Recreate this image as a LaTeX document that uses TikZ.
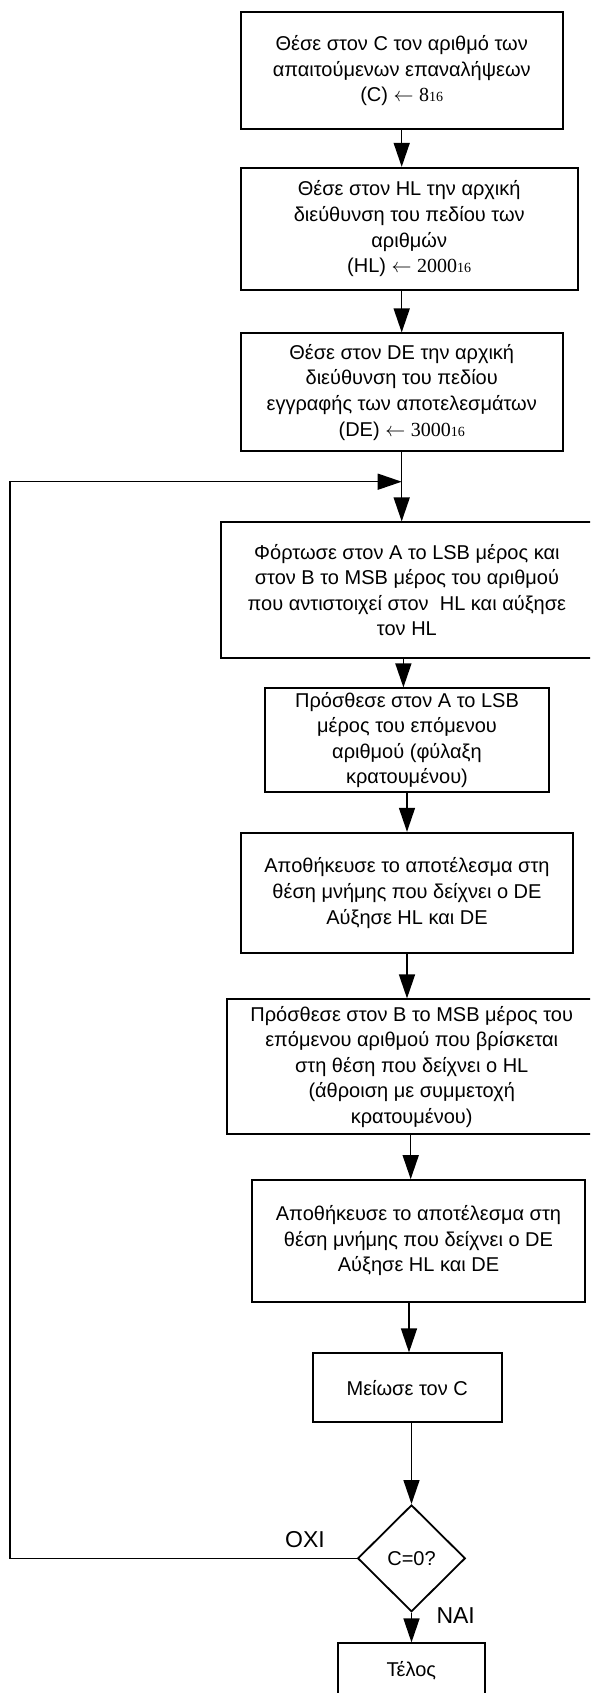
\documentclass[tikz,border=0pt]{standalone}
\usepackage{fontspec}
\setmainfont{Liberation Sans}
\newfontfamily\tms{Liberation Serif}
\usetikzlibrary{arrows.meta,shapes.geometric}
\newcommand{\hexv}[1]{{\tms #1}}
\newcommand{\sixteen}{{\tms\fontsize{7}{7}\selectfont 16}}
\begin{document}
\begin{tikzpicture}[x=0.5pt,y=-0.5pt,
  box/.style={draw, line width=0.9pt, rectangle, align=center, inner sep=0pt,
    font=\fontsize{10}{12.8}\selectfont},
  dec/.style={draw, line width=0.9pt, diamond, aspect=1, inner sep=0pt,
    minimum width=53.8pt, minimum height=53.4pt, font=\fontsize{10}{12}\selectfont},
  lbl/.style={inner sep=0pt, font=\fontsize{11.5}{13}\selectfont},
  arr/.style={line width=0.75pt, -{Triangle[length=12pt,width=8pt]}},
  ln/.style={line width=0.75pt}]
\useasboundingbox (0,0) rectangle (590,1693);
\clip (0,0) rectangle (590,1693);
\fill[white] (0,0) rectangle (590,1693);

\node[box, minimum width=161pt, minimum height=58.35pt] (b1) at (401.7,70.7)
  {Θέσε στον C τον αριθμό των\\απαιτούμενων επαναλήψεων\\(C) $\leftarrow$ \hexv{8}\sixteen};
\node[box, minimum width=168.5pt, minimum height=61.15pt] (b2) at (409.2,228.9)
  {Θέσε στον HL την αρχική\\διεύθυνση του πεδίου των\\αριθμών\\(HL) $\leftarrow$ \hexv{2000}\sixteen};
\node[box, minimum width=161pt, minimum height=58.85pt] (b3) at (401.7,392.2)
  {Θέσε στον DE την αρχική\\διεύθυνση του πεδίου\\εγγραφής των αποτελεσμάτων\\(DE) $\leftarrow$ \hexv{3000}\sixteen};
\coordinate (J) at (401.7,481.7);
\coordinate (L) at (10,481.7);
\node[box, minimum width=186.2pt, minimum height=67.7pt] (b4) at (406.9,590)
  {Φόρτωσε στον A το LSB μέρος και\\στον B το MSB μέρος του αριθμού\\που αντιστοιχεί στον\ \ HL και αύξησε\\τον HL};
\node[box, minimum width=142pt, minimum height=51.7pt] (b5) at (407,740)
  {Πρόσθεσε στον A το LSB\\μέρος του επόμενου\\αριθμού (φύλαξη\\κρατουμένου)};
\node[box, minimum width=166.3pt, minimum height=60.3pt] (b6) at (407,893)
  {Αποθήκευσε το αποτέλεσμα στη\\θέση μνήμης που δείχνει ο DE\\Αύξησε HL και DE};
\node[box, minimum width=184.4pt, minimum height=67.5pt] (b7) at (411.7,1066.8)
  {Πρόσθεσε στον B το MSB μέρος του\\επόμενου αριθμού που βρίσκεται\\στη θέση που δείχνει ο HL\\(άθροιση με συμμετοχή\\κρατουμένου)};
\node[box, minimum width=166.5pt, minimum height=60.85pt] (b8) at (418.5,1240.9)
  {Αποθήκευσε το αποτέλεσμα στη\\θέση μνήμης που δείχνει ο DE\\Αύξησε HL και DE};
\node[box, minimum width=94.5pt, minimum height=34.5pt] (b9) at (407.2,1387.8)
  {Μείωσε τον C};
\node[dec] (d) at (411.5,1558.3) {C=0?};
\node[box, minimum width=73.7pt, minimum height=28pt] (end) at (411.4,1671.3)
  {\raisebox{2.3pt}{Τέλος}};

\node[lbl] (no) at (305,1539.3) {ΟΧΙ};
\node[lbl] (yes) at (455.7,1615.3) {ΝΑΙ};

\draw[arr] (b1.south) -- (b1.south |- b2.north);
\draw[arr] (b1.south |- b2.south) -- (b1.south |- b3.north);
\draw[ln] (b3.south) -- (J);
\draw[arr] (J) -- (J |- b4.north);
\draw[arr] ([xshift=-1.75pt]b4.south) -- ([xshift=-1.75pt]b4.south |- b5.north);
\draw[arr] (b5.south) -- (b5.south |- b6.north);
\draw[arr] (b6.south) -- (b6.south |- b7.north);
\draw[arr] ([xshift=-0.5pt]b7.south) -- ([xshift=-0.5pt]b7.south |- b8.north);
\draw[arr] ([xshift=0.9pt]b9.north |- b8.south) -- ([xshift=0.9pt]b9.north);
\draw[arr] (d.north |- b9.south) -- (d.north);
\draw[arr] (d.south) -- (d.south |- end.north);
\draw[arr] (d.west) -| (L) -- (J);
\end{tikzpicture}
\end{document}
